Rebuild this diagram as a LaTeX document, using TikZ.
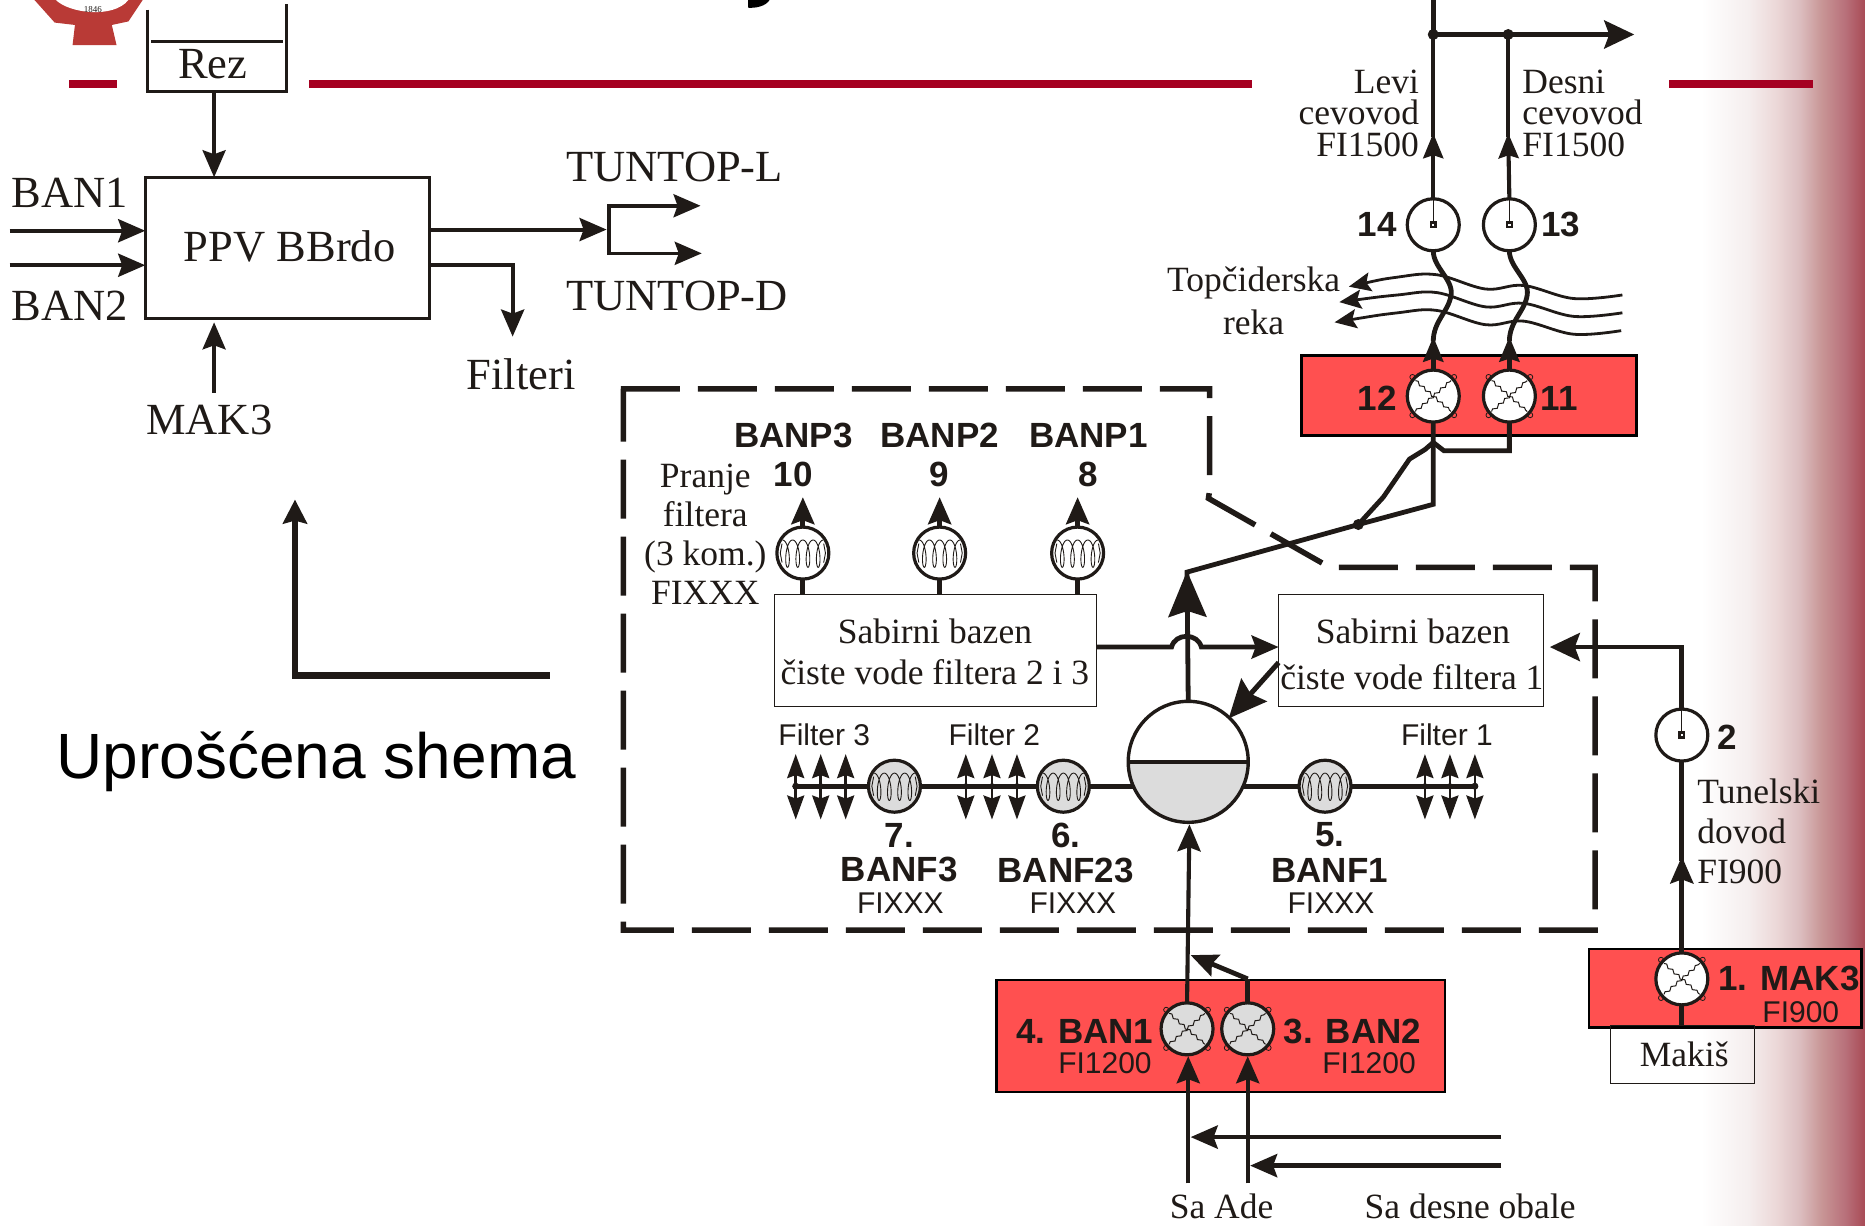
\documentclass[tikz,border=0pt]{standalone}
\usepackage{fontspec}
\setmainfont{Liberation Serif}
\setsansfont{Liberation Sans}
\usetikzlibrary{arrows.meta,shapes.geometric,decorations.pathmorphing}
\definecolor{ink}{HTML}{1F1A17}
\definecolor{redbox}{HTML}{FF5050}
\definecolor{redline}{HTML}{A50021}
\definecolor{logored}{HTML}{B93A36}
\definecolor{tankgray}{HTML}{DCDCDC}
\definecolor{gA}{HTML}{F5EEEE}
\definecolor{gB}{HTML}{EBD7D7}
\definecolor{gC}{HTML}{DCBEC0}
\definecolor{gD}{HTML}{C89696}
\definecolor{gF}{HTML}{B8707A}
\definecolor{gE}{HTML}{A84A55}
\pgfdeclarehorizontalshading{sidefade}{100bp}{color(0bp)=(white);color(25bp)=(white);color(39.5bp)=(gA);color(48.3bp)=(gB);color(55bp)=(gC);color(61.7bp)=(gD);color(69bp)=(gF);color(75bp)=(gE);color(100bp)=(gE)}
\newcommand{\wavx}[1]{\begin{scope}[shift={(#1.center)}]
  \foreach \sx/\sy in {1/1,1/-1,-1/1,-1/-1}{\draw[line width=.8bp] (\sx*17.5,\sy*16) circle[radius=2.6bp];}
  \draw[line width=1bp,decorate,decoration={snake,amplitude=1.3bp,segment length=8bp}] (-15,-13)--(15,13);
  \draw[line width=1bp,decorate,decoration={snake,amplitude=1.3bp,segment length=8bp}] (-15,13)--(15,-13);
\end{scope}}
\newcommand{\coilx}[1]{\begin{scope}[shift={(#1.center)}]
  \draw[line width=.9bp] plot[variable=\t,domain=-180:1260,samples=145,smooth] ({8.6*(\t-540)/360-3.4*sin(\t)},{11.5*cos(\t)+.5});
  \draw[line width=.9bp] (-17.5,-8)--(-19,0)--(-17.5,8) (17.5,-8)--(19,0)--(17.5,8);
\end{scope}}
\newcommand{\meterx}[1]{\begin{scope}[shift={(#1.center)}]
  \draw[line width=.8bp] (0,-21)--(0,0);
  \fill[ink] (-3,-3) rectangle (3,3);
  \fill[white] (-1,-1) rectangle (1,1);
\end{scope}}
\begin{document}
\begin{tikzpicture}[x=1.1894bp,y=-1.1894bp,color=ink,
  every node/.style={inner sep=0pt,outer sep=0pt,text=ink},
  big/.style={font=\fontsize{44.5bp}{50bp}\selectfont},
  lab/.style={font=\fontsize{35.5bp}{31.5bp}\selectfont},
  sb/.style={font=\fontsize{35bp}{40bp}\selectfont\sffamily\bfseries},
  sr/.style={font=\fontsize{30bp}{34bp}\selectfont\sffamily},
  pipe/.style={line width=3.6bp},
  pipem/.style={line width=4.1bp},
  pipeb/.style={line width=4.8bp},
  pump/.style={ellipse,draw=ink,line width=3.2bp,minimum width=52bp,minimum height=52bp},
  thinbox/.style={rectangle,draw=ink,line width=1.2bp,align=center},
  redrect/.style={rectangle,draw=black,line width=2.6bp,fill=redbox},
  tipL/.tip={Stealth[length=46bp,width=38bp,inset=6bp]},
  tipV/.tip={Stealth[length=27bp,width=23bp,inset=4bp]},
  tipU/.tip={Stealth[length=25bp,width=20bp,inset=3bp]},
  tipM/.tip={Stealth[length=30bp,width=28bp,inset=5bp]},
  tipD/.tip={Stealth[length=24bp,width=17bp,inset=3bp]},
  tipW/.tip={Stealth[length=22bp,width=19bp,inset=4bp]},
  tipR/.tip={Stealth[length=38bp,width=34bp,inset=5bp]}]
\useasboundingbox (0,0) rectangle (1568,1030);
% background
\shade[shading=sidefade] (1430,0) rectangle (1568,1030);
\fill[redline] (58,67) rectangle (98,74);
\fill[redline] (260,67) rectangle (1053,74);
\fill[redline] (1403,67) rectangle (1524,74);
% logo
\fill[logored] (29,0)--(46,19)--(63,21)--(61,38)--(98,38)--(94,21)--(108,18)--(120,0)--cycle;
\fill[white] (47,0) .. controls (58,11) and (95,16) .. (108,0)--cycle;
\node[font=\fontsize{9bp}{10bp}\selectfont] (yr) at (78,8) {1846};
% clipped title descender
\fill[black] (629,0)--(647,0) .. controls (644,5) and (636,7) .. (629,6.5)--cycle;
% red boxes
\node[redrect,minimum width=335.4bp,minimum height=79.7bp] (rtop) at (1235,332.5) {};
\node[redrect,minimum width=448.4bp,minimum height=111.8bp] (rban) at (1026.5,871) {};
\node[redrect,minimum width=272.4bp,minimum height=78.5bp] (rmak) at (1450.5,831) {};
\node[thinbox,minimum width=143.9bp,minimum height=58.3bp] (makis) at (1414.5,886.5) {};
\node[lab] (tmakis) at (1416,886) {Makiš};
% dashed enclosure
\draw[line width=5.5bp,dash pattern=on 59bp off 18bp,miter limit=10] (522,327)--(1017,327)--(1017,412)--(1016,419)--(1118,477)--(1341,477)--(1341,782)--(524,782)--(524,327);
% PPV block
\node[rectangle,draw=ink,line width=3.2bp,minimum width=284bp,minimum height=141.5bp] (ppv) at (241.5,208.5) {};
\node[big] (tppv) at (243.5,207) {PPV BBrdo};
\draw[line width=3bp] (124,8)--(124,77)--(241,77)--(241,3);
\draw[line width=3bp] (127,35)--(238,35);
\node[big] (rez) at (179,54) {Rez};
\coordinate (rezb) at (180,77);
\draw[pipe,-tipV] (rezb)--(rezb |- ppv.north);
\coordinate (b1) at (8,194);
\coordinate (b2) at (8,223);
\draw[pipem,-tipV] (b1)--(b1 -| ppv.west);
\draw[pipem,-tipV] (b2)--(b2 -| ppv.west);
\node[big,anchor=west] (tb1) at (10,162) {BAN1};
\node[big,anchor=west] (tb2) at (10,257) {BAN2};
\node[big] (tmak) at (176,353) {MAK3};
\draw[pipe,-tipV] (180,330)--(180,271);
\node[big,anchor=west] (ttl) at (476,140) {TUNTOP-L};
\node[big,anchor=west] (ttd) at (476,249) {TUNTOP-D};
\node[big] (tfil) at (438,315) {Filteri};
\coordinate (splitT) at (512,173);
\coordinate (splitB) at (512,213);
\coordinate (oT) at (589,173);
\coordinate (oB) at (590,213);
\draw[pipem,-tipV] (ppv.east |- 0,193)--(510,193);
\draw[pipe,tipV-tipV] (oT)--(splitT)--(splitB)--(oB);
\draw[pipem,-tipV] (ppv.east |- 0,223)--(431,223)--(431,283);
% outgoing top
\coordinate (j14) at (1205,29);
\coordinate (j13) at (1268,29);
\draw[line width=5.4bp] (1205,0)--(j14);
\draw[line width=5bp,-tipM] (j14)--(1374,29);
\node[pump,fill=white] (p14) at (1205,189) {};
\node[pump,fill=white] (p13) at (1269,189) {};
\node[pump,fill=white] (p12) at (1205,333) {};
\node[pump,fill=white] (p11) at (1269,333) {};
\draw[pipem] (j14)--(1205,115);
\draw[pipem] (j13)--(1268,115);
\draw[pipem,-tipU] (p14.north)--(1205,112);
\draw[pipem,-tipU] (p13.north)--(1268,112);
\fill (j14) circle[radius=5.5bp];
\fill (j13) circle[radius=5.5bp];
\meterx{p14}\meterx{p13}
\wavx{p12}\wavx{p11}
% river
\draw[line width=2.8bp,tipW-] plot[smooth,tension=.6] coordinates {(1134,241)(1175,233)(1208,231)(1249,243)(1281,240)(1323,251)(1364,248)};
\draw[line width=2.8bp,tipW-] plot[smooth,tension=.6] coordinates {(1126,254)(1175,248)(1208,246)(1249,258)(1281,255)(1323,266)(1364,263)};
\draw[line width=2.8bp,tipW-] plot[smooth,tension=.6] coordinates {(1122,271)(1175,263)(1208,261)(1249,273)(1281,270)(1323,281)(1363,278)};
% pipes crossing river
\draw[line width=4.8bp] (p14.south) .. controls (1205,225) and (1222,235) .. (1220,248) .. controls (1218,262) and (1205,270) .. (1205,287);
\draw[line width=4.8bp] (p13.south) .. controls (1269,225) and (1286,235) .. (1284,248) .. controls (1282,262) and (1269,270) .. (1269,287);
\draw[pipeb,-tipU] (p12.north)--(1205,283);
\draw[pipeb,-tipU] (p11.north)--(1269,283);
\node[lab,align=right,anchor=east] (levi) at (1193,95) {Levi\\cevovod\\FI1500};
\node[lab,align=left,anchor=west] (desni) at (1280,95) {Desni\\cevovod\\FI1500};
\node[sb] (n14) at (1158,189) {14};
\node[sb] (n13) at (1312,189) {13};
\node[sb] (n12) at (1158,335) {12};
\node[sb] (n11) at (1311,335) {11};
\node[lab] (topc) at (1054,238) {Topčiderska};
\node[lab] (reka) at (1054,271) {reka};
% collectors under top box
\coordinate (riseT) at (1205,424);
\coordinate (dotJ) at (1142,441);
\coordinate (riseB) at (998,481);
\draw[pipeb] (p12.south)--(riseT)--(dotJ)--(riseB)--(998,515);
\draw[pipeb] (p11.south)--(1269,379)--(1214,379)--(1205,372)--(1198,378)--(1185,386)--(1163,418)--(dotJ);
\fill (dotJ) circle[radius=5.5bp];
% horizontal filter main
\coordinate (f3end) at (669,661);
\coordinate (f1end) at (1240,661);
\draw[line width=5bp] (f3end)--(f1end);
% tank
\node[ellipse,draw=ink,line width=3.4bp,minimum width=120bp,minimum height=121bp,fill=white,
  path picture={\fill[tankgray] (path picture bounding box.west) rectangle (path picture bounding box.south east);}] (tank) at (999,640.5) {};
\draw[line width=3.6bp] (tank.west)--(tank.east);
\draw[pipeb,-tipL] (tank.north)--(998,480);
\fill (f3end) circle[radius=3.5bp];
\fill (f1end) circle[radius=3.5bp];
\foreach \xx in {669,690,711,812,834,855,1198,1219,1240}{
  \draw[line width=2.6bp,tipD-tipD] (\xx,634)--(\xx,689);
  \fill (\xx,661) circle[radius=3bp];}
\node[pump,fill=tankgray] (f7) at (752,661) {};
\node[pump,fill=tankgray] (f6) at (894,661) {};
\node[pump,fill=tankgray] (f5) at (1114,661) {};
\coilx{f7}\coilx{f6}\coilx{f5}
\node[sr] (tf3) at (693,618) {Filter 3};
\node[sr] (tf2) at (836,618) {Filter 2};
\node[sr] (tf1) at (1216.5,618) {Filter 1};
\node[sb] (s7) at (756,702) {7.};
\node[sb] (s6) at (896,702) {6.};
\node[sb] (s5) at (1118,702) {5.};
\node[sb] (nf3) at (756,731) {BANF3};
\node[sb] (nf23) at (896,732) {BANF23};
\node[sb] (nf1) at (1118,732) {BANF1};
\node[sr] (xf3) at (757,759) {FIXXX};
\node[sr] (xf23) at (902,759) {FIXXX};
\node[sr] (xf1) at (1119,759) {FIXXX};
% sabirni
\node[thinbox,minimum width=322.3bp,minimum height=111.8bp] (sb23) at (786.5,547) {};
\node[thinbox,minimum width=265.2bp,minimum height=111.8bp] (sb1) at (1186.5,547) {};
\node[lab] (s23a) at (786,531) {Sabirni bazen};
\node[lab] (s23b) at (786,565) {čiste vode filtera 2 i 3};
\node[lab] (s1a) at (1188,531) {Sabirni bazen};
\node[lab] (s1b) at (1187,569) {čiste vode filtera 1};
\coordinate (hopL) at (985,544);
\coordinate (hopR) at (1010,544);
\draw[pipeb,-tipV] (sb23.east |- hopL)--(hopL) .. controls (988,532) and (1007,532) .. (hopR)--(sb1.west |- hopR);
\draw[line width=5bp,-tipR] (1075,557)--(1033,604);
% pumps of clean water
\node[pump,fill=white] (p10) at (675,465) {};
\node[pump,fill=white] (p9) at (790,465) {};
\node[pump,fill=white] (p8) at (906,465) {};
\coilx{p10}\coilx{p9}\coilx{p8}
\draw[pipeb] (p10.south)--(p10.south |- sb23.north);
\draw[pipeb] (p9.south)--(p9.south |- sb23.north);
\draw[pipeb] (p8.south)--(p8.south |- sb23.north);
\draw[pipeb,-tipV] (p10.north)--(675,418);
\draw[pipeb,-tipV] (p9.north)--(790,418);
\draw[pipeb,-tipV] (p8.north)--(906,418);
\node[sb] (np3) at (667,366) {BANP3};
\node[sb] (np2) at (790,366) {BANP2};
\node[sb] (np1) at (915,366) {BANP1};
\node[sb] (n10) at (667,399) {10};
\node[sb] (n9) at (790,399) {9};
\node[sb] (n8) at (915,399) {8};
\node[lab,align=center,font=\fontsize{35.5bp}{39bp}\selectfont] (pranje) at (593,449) {Pranje\\filtera\\(3 kom.)\\FIXXX};
% raw water
\node[pump,fill=tankgray] (p4) at (998,865) {};
\node[pump,fill=tankgray] (p3) at (1049,865) {};
\wavx{p4}\wavx{p3}
\draw[pipem,-tipV] (p4.north)--(1000,693);
\coordinate (p3up) at (1049,823);
\draw[pipeb] (p3.north)--(p3up);
\draw[pipeb,-tipV] (p3up)--(1001,803);
\coordinate (in4) at (999,995);
\coordinate (in3) at (1049,995);
\draw[pipem,-tipV] (in4)--(999,888);
\draw[pipem,-tipV] (in3)--(1049,888);
\draw[pipeb,-tipV] (1262,956)--(1001,956);
\draw[pipeb,-tipV] (1262,980)--(1051,980);
\node[sb] (t4) at (912,867) {4. BAN1};
\node[sr] (t4b) at (929,894) {FI1200};
\node[sb] (t3) at (1137,867) {3. BAN2};
\node[sr] (t3b) at (1151,894) {FI1200};
\node[lab] (sade) at (1027,1014) {Sa Ade};
\node[lab] (sdes) at (1236,1014) {Sa desne obale};
% Makis line
\node[pump,fill=white] (p1) at (1414,823) {};
\node[pump,fill=white] (p2) at (1414,618) {};
\wavx{p1}\meterx{p2}
\draw[pipeb] (p1.south)--(p1.south |- makis.north);
\draw[pipeb,-tipV] (p1.north)--(1414,720);
\draw[pipeb] (p2.south)--(1414,724);
\draw[pipeb,-tipM] (p2.north)--(1414,544)--(1303,544);
\node[sb] (n2) at (1452,620) {2};
\node[sb] (t1) at (1504,823) {1. MAK3};
\node[sr] (t1b) at (1514,851) {FI900};
\node[lab,align=left,anchor=west,font=\fontsize{35.5bp}{40bp}\selectfont] (tun) at (1427,699) {Tunelski\\dovod\\FI900};
% side note
\draw[line width=6.5bp,-{Stealth[length=24bp,width=24bp,inset=3bp]}] (462,568)--(248,568)--(248,420);
\node[font=\fontsize{64bp}{70bp}\selectfont\sffamily,text=black] (ups) at (266,640) {Uprošćena shema};
\end{tikzpicture}
\end{document}
